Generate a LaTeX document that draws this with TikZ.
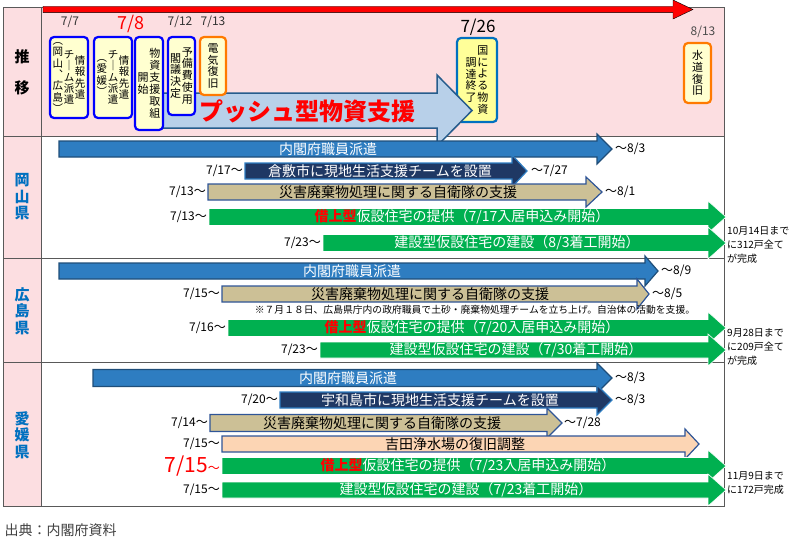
\documentclass[tikz,border=0pt]{standalone}
\usepackage{fontspec}
\setmainfont{Noto Sans CJK JP}
\usepackage{tikz}
\usetikzlibrary{positioning,calc}
\definecolor{tablepink}{RGB}{252,222,225}
\definecolor{prefblue}{RGB}{0,112,192}
\definecolor{barblue}{RGB}{46,125,193}
\definecolor{barblueline}{RGB}{31,78,121}
\definecolor{barnavy}{RGB}{31,56,100}
\definecolor{bartan}{RGB}{204,192,150}
\definecolor{tanline}{RGB}{47,85,151}
\definecolor{barpeach}{RGB}{252,213,180}
\definecolor{bargreen}{RGB}{0,176,80}
\definecolor{boxyellow}{RGB}{255,255,208}
\definecolor{boxyellowb}{RGB}{255,255,153}
\definecolor{boxblue}{RGB}{0,0,255}
\definecolor{boxorange}{RGB}{255,122,0}
\definecolor{pushfill}{RGB}{184,208,233}
\definecolor{pushline}{RGB}{38,92,140}

% one column of vertical text
\def\tateloop#1{\ifx\relax#1\else\hbox to 1.05em{\hss#1\hss}\expandafter\tateloop\fi}
\newcommand{\tatecol}[1]{$\vcenter{\baselineskip=1.08em\lineskiplimit=-100pt\tateloop#1\relax}$}
\newcommand{\kariage}{{\bfseries\color{red}借上型}}
% style, left x, head base x, tip x, mid y, body half, head half
\newcommand{\blockarrow}[7]{%
  \draw[#1] (#2,#5-#6) -- (#3,#5-#6) -- (#3,#5-#7) -- (#4,#5)
    -- (#3,#5+#7) -- (#3,#5+#6) -- (#2,#5+#6) -- cycle;}

\begin{document}
\begin{tikzpicture}[x=1pt,y=-1pt,
  tabline/.style={draw=black!65,line width=1pt},
  bluebar/.style={fill=barblue,draw=barblueline,line width=1.2pt},
  navybar/.style={fill=barnavy,draw=barblue,line width=1.2pt},
  tanbar/.style={fill=bartan,draw=tanline,line width=1.2pt},
  peachbar/.style={fill=barpeach,draw=tanline,line width=1.2pt},
  greenbar/.style={fill=bargreen,draw=white,line width=0.6pt},
  bartext/.style={font=\fontsize{14}{14}\selectfont,text=white,inner sep=0pt},
  datelbl/.style={font=\fontsize{12}{12}\selectfont,inner sep=1pt},
  notetext/.style={font=\fontsize{10}{14}\selectfont,align=left,anchor=west,inner sep=0pt},
  preflbl/.style={font=\bfseries\fontsize{15}{16.5}\selectfont,text=prefblue,align=center},
  tatebox/.style={draw=boxblue,line width=2.2pt,rounded corners=4pt,fill=boxyellow,inner sep=0pt,font=\fontsize{11}{11}\selectfont}]
\useasboundingbox (0,0) rectangle (791,543);

% table
\fill[tablepink] (3,8) rectangle (724,136);
\fill[tablepink] (3,136) rectangle (41,506);
\draw[tabline] (3,8) rectangle (724,506);
\draw[tabline] (41,8) -- (41,506);
\foreach \y in {136,258,362} \draw[tabline] (3,\y) -- (724,\y);

\node[font=\bfseries\fontsize{15}{31}\selectfont,align=center] (suii) at (22,72) {推\\移};
\node[preflbl] (okayama) at (22,197) {岡\\山\\県};
\node[preflbl] (hiroshima) at (22,311) {広\\島\\県};
\node[preflbl] (ehime) at (22,435) {愛\\媛\\県};

% time line
\blockarrow{fill=red}{43}{673}{693}{9.5}{3.2}{9.5}
\node[datelbl,text=black!80] (d0707) at (70,22) {7/7};
\node[datelbl,text=red,font=\fontsize{18}{18}\selectfont] (d0708) at (131,24) {7/8};
\node[datelbl,text=black!80] (d0712) at (180,22) {7/12};
\node[datelbl,text=black!80] (d0713) at (213,22) {7/13};
\node[datelbl,font=\fontsize{17}{17}\selectfont] (d0726) at (478,27) {7/26};
\node[datelbl,text=black!70] (d0813) at (703,32) {8/13};

\node[tatebox,draw=prefblue,fill=boxyellowb,minimum width=40pt,minimum height=84pt] (chotatsu) at (477,80) {\tatecol{調達終了}\tatecol{国による物資}};
\blockarrow{fill=pushfill,draw=pushline,line width=1.5pt}{163}{437}{472}{110.5}{17.5}{35.5}
\node[font=\bfseries\fontsize{24}{24}\selectfont,text=red] (push) at (307,111) {プッシュ型物資支援};

\node[tatebox,font=\fontsize{10.5}{10.5}\selectfont,minimum width=38pt,minimum height=81pt] (info1) at (69,77.5) {\tatecol{︵岡山︑広島︶}\tatecol{チ｜ム派遣}\tatecol{情報先遣}};
\node[tatebox,font=\fontsize{10.5}{10.5}\selectfont,minimum width=38pt,minimum height=81pt] (info2) at (113,77.5) {\tatecol{︵愛媛︶}\tatecol{チ｜ム派遣}\tatecol{情報先遣}};
\node[tatebox,minimum width=28pt,minimum height=93pt] (busshi) at (149,83.5) {\tatecol{開始}\tatecol{物資支援取組}};
\node[tatebox,minimum width=27pt,minimum height=78pt] (yobihi) at (181.5,76) {\tatecol{閣議決定}\tatecol{予備費使用}};
\node[tatebox,draw=boxorange,minimum width=26pt,minimum height=58pt] (denki) at (213,66) {\tatecol{電気復旧}};
\node[tatebox,draw=boxorange,minimum width=27pt,minimum height=60pt] (suido) at (697.5,73) {\tatecol{水道復旧}};

% 岡山県
\blockarrow{bluebar}{59}{597}{612}{149}{8}{15}
\node[bartext] (ok1) at (328,149) {内閣府職員派遣};
\node[datelbl,right] (ok1e) at (614,149) {～8/3};
\blockarrow{navybar}{245}{512}{527}{171}{8}{16}
\node[bartext] (ok2) at (380,171) {倉敷市に現地生活支援チームを設置};
\node[datelbl,left] (ok2s) at (244,171) {7/17～};
\node[datelbl,right] (ok2e) at (530,171) {～7/27};
\blockarrow{tanbar}{208}{586}{602}{192}{8}{15}
\node[bartext,text=black] (ok3) at (398,192) {災害廃棄物処理に関する自衛隊の支援};
\node[datelbl,left] (ok3s) at (207,192) {7/13～};
\node[datelbl,right] (ok3e) at (604,192) {～8/1};
\blockarrow{greenbar}{209}{708}{726}{217}{8.5}{16}
\node[bartext] (ok4) at (462,217) {\kariage 仮設住宅の提供（7/17入居申込み開始）};
\node[datelbl,left] (ok4s) at (208,217) {7/13～};
\blockarrow{greenbar}{323}{708}{726}{243}{8.5}{16}
\node[bartext] (ok5) at (517,243) {建設型仮設住宅の建設（8/3着工開始）};
\node[datelbl,left] (ok5s) at (322,243) {7/23～};
\node[notetext] (ok6) at (727,245) {10月14日まで\\に312戸全て\\が完成};

% 広島県
\blockarrow{bluebar}{59}{645}{658}{271}{8}{15}
\node[bartext] (hs1) at (352,271) {内閣府職員派遣};
\node[datelbl,right] (hs1e) at (660,271) {～8/9};
\blockarrow{tanbar}{222}{637}{649}{294}{8}{15}
\node[bartext,text=black] (hs2) at (430,294) {災害廃棄物処理に関する自衛隊の支援};
\node[datelbl,left] (hs2s) at (221,294) {7/15～};
\node[datelbl,right] (hs2e) at (651,294) {～8/5};
\node[font=\fontsize{9.8}{10}\selectfont,inner sep=0pt] (hs3) at (475,310) {※７月１８日、広島県庁内の政府職員で土砂・廃棄物処理チームを立ち上げ。自治体の活動を支援。};
\blockarrow{greenbar}{228}{708}{726}{328}{8.5}{16}
\node[bartext] (hs4) at (472,328) {\kariage 仮設住宅の提供（7/20入居申込み開始）};
\node[datelbl,left] (hs4s) at (227,328) {7/16～};
\blockarrow{greenbar}{320}{708}{726}{350}{8}{16}
\node[bartext] (hs5) at (516,350) {建設型仮設住宅の建設（7/30着工開始）};
\node[datelbl,left] (hs5s) at (319,350) {7/23～};
\node[notetext] (hs6) at (727,347) {9月28日まで\\に209戸全て\\が完成};

% 愛媛県
\blockarrow{bluebar}{93}{597}{612}{378}{8.5}{15}
\node[bartext] (eh1) at (348,378) {内閣府職員派遣};
\node[datelbl,right] (eh1e) at (614,378) {～8/3};
\blockarrow{navybar}{280}{597}{612}{400}{8}{15}
\node[bartext] (eh2) at (440,400) {宇和島市に現地生活支援チームを設置};
\node[datelbl,left] (eh2s) at (279,400) {7/20～};
\node[datelbl,right] (eh2e) at (614,400) {～8/3};
\blockarrow{tanbar}{210}{547}{562}{423}{8.5}{15}
\node[bartext,text=black] (eh3) at (382,423) {災害廃棄物処理に関する自衛隊の支援};
\node[datelbl,left] (eh3s) at (209,423) {7/14～};
\node[datelbl,right] (eh3e) at (563,423) {～7/28};
\blockarrow{peachbar}{222}{685}{699}{444}{8}{15}
\node[bartext,text=black] (eh4) at (455,444) {吉田浄水場の復旧調整};
\node[datelbl,left] (eh4s) at (221,444) {7/15～};
\blockarrow{greenbar}{222}{708}{726}{466}{8.5}{16}
\node[bartext] (eh5) at (468,466) {\kariage 仮設住宅の提供（7/23入居申込み開始）};
\node[datelbl,left,text=red] (eh5s) at (221,466) {{\fontsize{21}{21}\selectfont 7/15}～};
\blockarrow{greenbar}{222}{708}{726}{490}{8}{16}
\node[bartext] (eh6) at (466,490) {建設型仮設住宅の建設（7/23着工開始）};
\node[datelbl,left] (eh6s) at (221,490) {7/15～};
\node[notetext] (eh7) at (727,483) {11月9日まで\\に172戸完成};

\node[anchor=west,font=\fontsize{14}{14}\selectfont,text=black!75] (src) at (1,530) {出典：内閣府資料};
\end{tikzpicture}
\end{document}
